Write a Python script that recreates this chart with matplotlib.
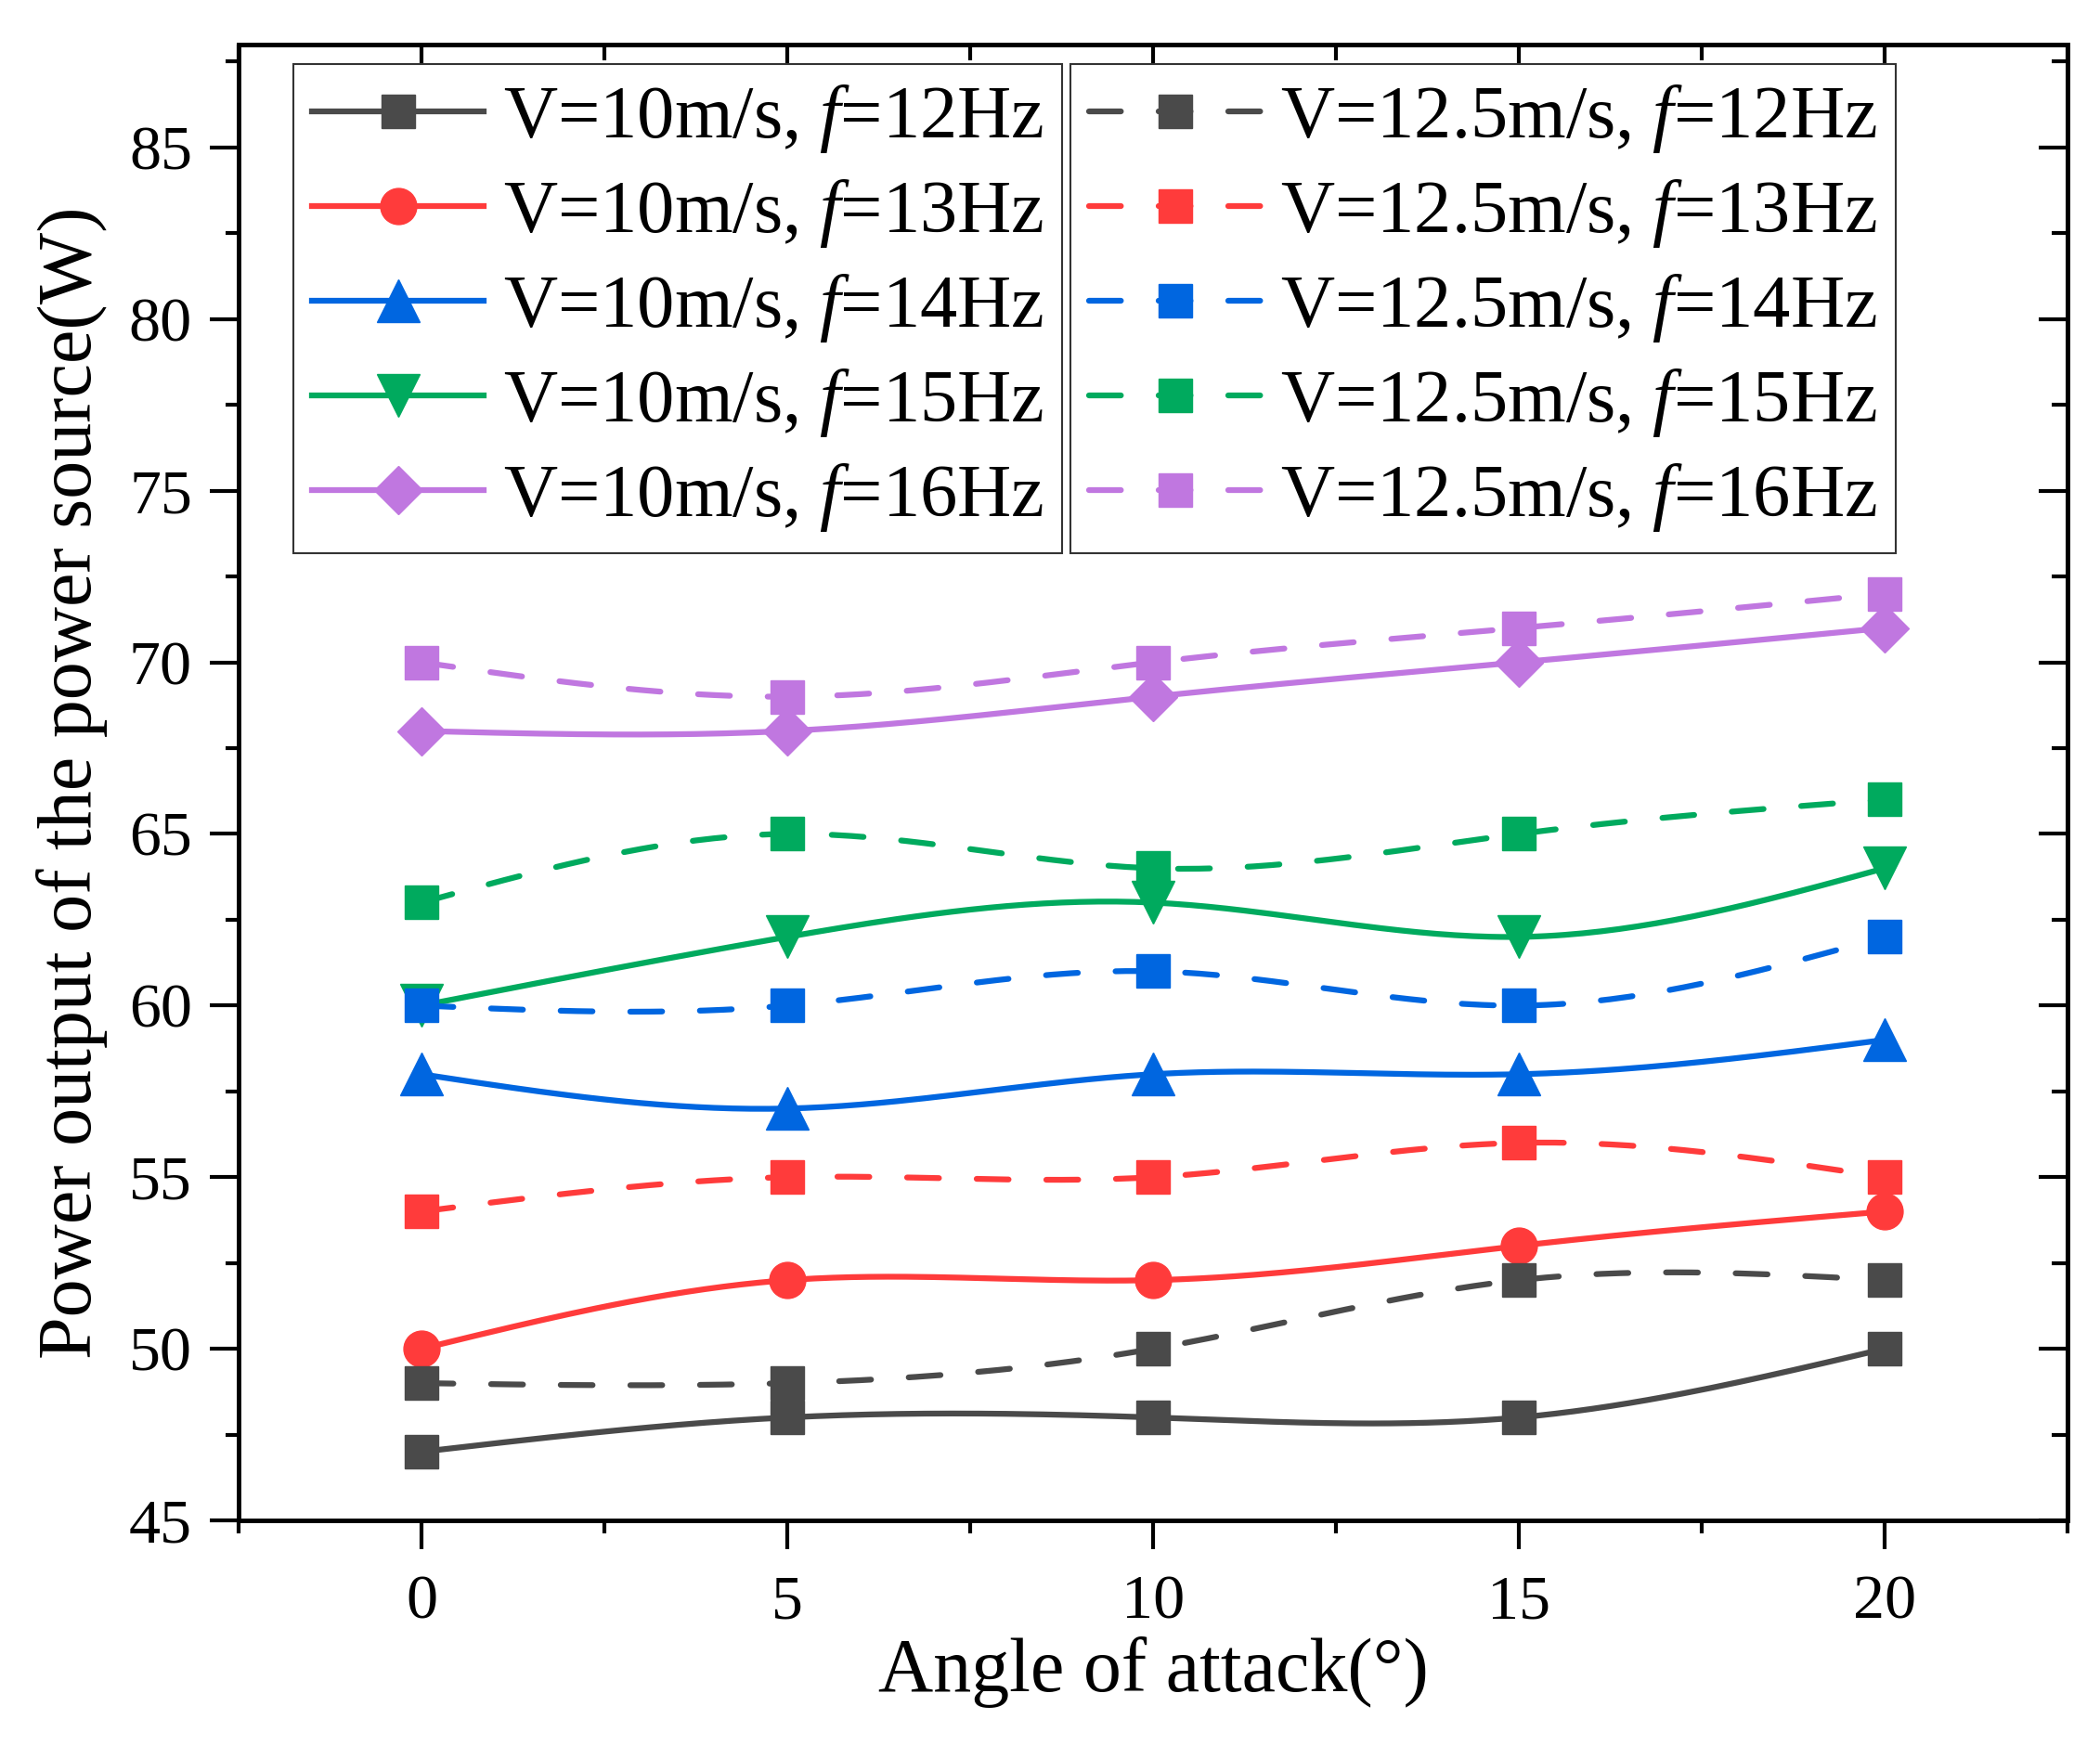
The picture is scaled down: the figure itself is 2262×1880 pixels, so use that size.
import numpy as np
import matplotlib.pyplot as plt
from matplotlib.ticker import MultipleLocator

# angle of attack (deg)
angle = [0, 5, 10, 15, 20]

# V = 10 m/s
v10_f12 = [47, 48, 48, 48, 50]
v10_f13 = [50, 52, 52, 53, 54]
v10_f14 = [58, 57, 58, 58, 59]
v10_f15 = [60, 62, 63, 62, 64]
v10_f16 = [68, 68, 69, 70, 71]

# V = 12.5 m/s
v125_f12 = [49, 49, 50, 52, 52]
v125_f13 = [54, 55, 55, 56, 55]
v125_f14 = [60, 60, 61, 60, 62]
v125_f15 = [63, 65, 64, 65, 66]
v125_f16 = [70, 69, 70, 71, 72]

freqs = [12, 13, 14, 15, 16]
colors = ['#4a4a4a', '#ff3b3b', '#0066e0', '#00aa5e', '#c077e0']
markers = ['s', 'o', '^', 'v', 'D']
msizes = [26, 28, 33, 33, 26]

plt.rcParams['font.family'] = ['Liberation Serif', 'DejaVu Serif']
plt.rcParams['mathtext.fontset'] = 'custom'
plt.rcParams['mathtext.rm'] = 'Liberation Serif'
plt.rcParams['mathtext.it'] = 'Liberation Serif:italic'

N_SEG = 40


def spline(x, y, n=N_SEG):
    # natural cubic spline through the points (Origin "spline" connect)
    x = np.asarray(x, float)
    y = np.asarray(y, float)
    h = np.diff(x)
    k = len(x)
    A = np.zeros((k, k))
    b = np.zeros(k)
    A[0, 0] = 1
    A[-1, -1] = 1
    for i in range(1, k - 1):
        A[i, i - 1] = h[i - 1]
        A[i, i] = 2 * (h[i - 1] + h[i])
        A[i, i + 1] = h[i]
        b[i] = 6 * ((y[i + 1] - y[i]) / h[i] - (y[i] - y[i - 1]) / h[i - 1])
    M = np.linalg.solve(A, b)
    xs, ys = [], []
    for i in range(k - 1):
        t = np.linspace(x[i], x[i + 1], n, endpoint=False)
        if i == k - 2:
            t = np.append(t, x[i + 1])
        a = x[i + 1] - t
        c = t - x[i]
        s = (M[i] * a ** 3 / (6 * h[i]) + M[i + 1] * c ** 3 / (6 * h[i])
             + (y[i] / h[i] - M[i] * h[i] / 6) * a
             + (y[i + 1] / h[i] - M[i + 1] * h[i] / 6) * c)
        xs.extend(t)
        ys.extend(s)
    return np.array(xs), np.array(ys)


fig = plt.figure(figsize=(22.62, 18.8), dpi=100)
ax = fig.add_axes([0.1136, 0.1287, 0.8709, 0.8458])

solid = [v10_f12, v10_f13, v10_f14, v10_f15, v10_f16]
dashed = [v125_f12, v125_f13, v125_f14, v125_f15, v125_f16]

h_solid, h_dash = [], []
for i in range(5):
    xs, ys = spline(angle, solid[i])
    ln, = ax.plot(xs, ys, color=colors[i], lw=4.5, marker=markers[i],
                  markersize=msizes[i], markevery=N_SEG,
                  label=f'V=10m/s, $f$={freqs[i]}Hz')
    h_solid.append(ln)
for i in range(5):
    xs, ys = spline(angle, dashed[i])
    ln, = ax.plot(xs, ys, color=colors[i], lw=4.5, ls=(0, (5.5, 6.5)),
                  dash_capstyle='round', marker='s', markersize=26,
                  markevery=N_SEG, label=f'V=12.5m/s, $f$={freqs[i]}Hz')
    h_dash.append(ln)

ax.set_xlim(-2.5, 22.5)
ax.set_ylim(45, 88)
ax.xaxis.set_major_locator(MultipleLocator(5))
ax.xaxis.set_minor_locator(MultipleLocator(2.5))
ax.yaxis.set_minor_locator(MultipleLocator(2.5))
ax.set_yticks(range(45, 90, 5))

for sp in ax.spines.values():
    sp.set_linewidth(3.5)
ax.tick_params(which='major', direction='out', length=22, width=3,
               labelsize=49)
ax.tick_params(which='minor', direction='out', length=10, width=3)
ax.tick_params(axis='x', which='major', pad=20)
ax.tick_params(axis='y', which='major', pad=14)

top = ax.secondary_xaxis('top')
top.xaxis.set_major_locator(MultipleLocator(5))
top.xaxis.set_minor_locator(MultipleLocator(2.5))
top.tick_params(which='major', direction='in', length=17, width=3)
top.tick_params(which='minor', direction='in', length=12, width=3)
top.tick_params(labeltop=False, labelbottom=False)
top.spines['top'].set_linewidth(3.5)

right = ax.secondary_yaxis('right')
right.yaxis.set_major_locator(MultipleLocator(5))
right.yaxis.set_minor_locator(MultipleLocator(2.5))
right.tick_params(which='major', direction='in', length=22, width=3)
right.tick_params(which='minor', direction='in', length=12, width=3)
right.tick_params(labelright=False, labelleft=False)
right.spines['right'].set_linewidth(3.5)

ax.set_xlabel('Angle of attack(°)', fontsize=59, labelpad=4)
ax.set_ylabel('Power output of the power source(W)', fontsize=59, labelpad=16)

leg_kw = dict(fontsize=58, frameon=True, fancybox=False, framealpha=1,
              edgecolor='#333333', handlelength=2.3, handletextpad=0.25,
              labelspacing=0.3, borderpad=0.25, borderaxespad=0,
              numpoints=1, loc='upper left')
leg1 = ax.legend(handles=h_solid, bbox_to_anchor=(0.030, 0.987), **leg_kw)
leg1.get_frame().set_linewidth(1.5)
ax.add_artist(leg1)
leg2 = ax.legend(handles=h_dash, bbox_to_anchor=(0.455, 0.987), **leg_kw)
leg2.get_frame().set_linewidth(1.5)

fig.savefig('out.png', dpi=100)
